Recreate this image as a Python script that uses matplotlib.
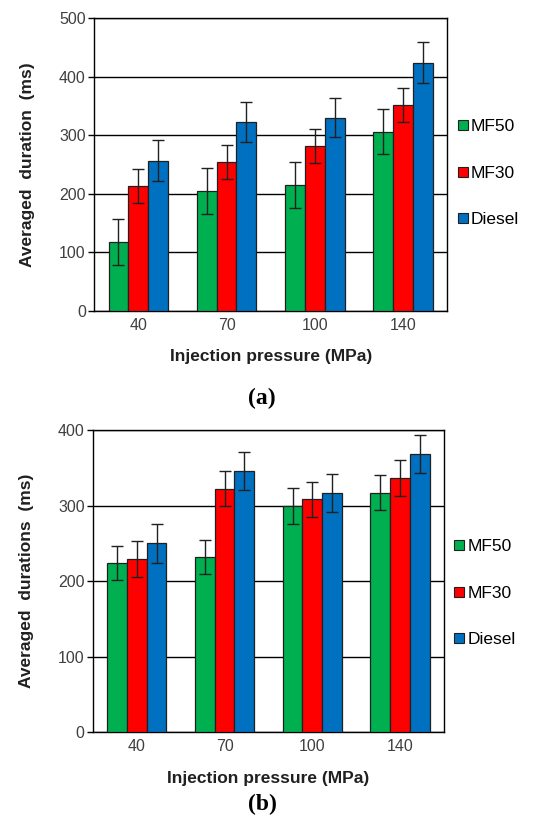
import numpy as np
import matplotlib
matplotlib.use("Agg")
from matplotlib import pyplot
from matplotlib.lines import Line2D

pressures = ["40", "70", "100", "140"]
fuels = ["MF50", "MF30", "Diesel"]

# panel (a): averaged duration
duration_a = {
    "MF50": [117, 204, 215, 306],
    "MF30": [213, 254, 282, 352],
    "Diesel": [256, 322, 330, 424],
}
error_a = {
    "MF50": [39, 39, 39, 39],
    "MF30": [29, 29, 29, 29],
    "Diesel": [35, 34, 33, 35],
}

# panel (b): averaged durations
duration_b = {
    "MF50": [224, 232, 299, 317],
    "MF30": [229, 322, 308, 336],
    "Diesel": [250, 346, 317, 368],
}
error_b = {
    "MF50": [23, 23, 24, 23],
    "MF30": [24, 23, 23, 24],
    "Diesel": [26, 25, 25, 25],
}

COLORS = {"MF50": "#00B050", "MF30": "#FF0000", "Diesel": "#0070C0"}
TICK_GREY = "#404040"
SANS = "Liberation Sans"


def draw_panel(axis, values, errors, y_max, y_label, legend_y):
    x = np.arange(len(pressures))
    width = 0.225
    for i, fuel in enumerate(fuels):
        axis.bar(x + (i - 1) * width, values[fuel], width=width,
                 color=COLORS[fuel], edgecolor="#202020", linewidth=0.9,
                 yerr=errors[fuel], capsize=4.5,
                 error_kw=dict(elinewidth=1.0, capthick=1.0, ecolor="#202020"),
                 zorder=3)
    axis.set_xlim(-0.5, len(pressures) - 0.5)
    axis.set_ylim(0, y_max)
    axis.set_yticks(np.arange(0, y_max + 1, 100))
    axis.set_xticks(x)
    axis.set_xticklabels(pressures)
    axis.tick_params(axis="y", length=4, width=1, color="black",
                     labelsize=11.5, labelcolor=TICK_GREY, pad=2)
    axis.tick_params(axis="x", length=0, labelsize=11.5,
                     labelcolor=TICK_GREY, pad=5)
    for label in axis.get_xticklabels() + axis.get_yticklabels():
        label.set_fontfamily(SANS)
    axis.grid(axis="y", color="black", linewidth=1.0, zorder=0)
    for spine in axis.spines.values():
        spine.set_color("black")
        spine.set_linewidth(1.0)
    axis.set_ylabel(y_label, fontsize=12.5, fontweight="bold",
                    fontfamily=SANS, color="#202020")
    axis.yaxis.set_label_coords(-0.168, 0.5)
    axis.set_xlabel("Injection pressure (MPa)", fontsize=12.5,
                    fontweight="bold", fontfamily=SANS, color="#202020",
                    labelpad=12)
    handles = [Line2D([], [], linestyle="none", marker="s", markersize=7,
                      markerfacecolor=COLORS[f], markeredgecolor="#202020",
                      markeredgewidth=0.8) for f in fuels]
    axis.legend(handles, fuels, loc="center left",
                bbox_to_anchor=(0.985, legend_y),
                frameon=False, handlelength=0.6, handletextpad=0.15,
                labelspacing=1.8, prop={"family": SANS, "size": 12.5})


figure = pyplot.figure(figsize=(5.54, 8.22), dpi=100)
figure.set_facecolor("white")

axis_a = figure.add_axes([0.170, 0.622, 0.637, 0.356])
draw_panel(axis_a, duration_a, error_a, 500, "Averaged  duration  (ms)", 0.47)

axis_b = figure.add_axes([0.168, 0.109, 0.633, 0.368])
draw_panel(axis_b, duration_b, error_b, 400, "Averaged  durations  (ms)", 0.46)

figure.text(0.473, 0.515, "(a)", fontsize=17, fontweight="bold",
            fontfamily="Liberation Serif", ha="center", va="center")
figure.text(0.473, 0.021, "(b)", fontsize=17, fontweight="bold",
            fontfamily="Liberation Serif", ha="center", va="center")

figure.savefig("out.png", dpi=100, facecolor="white")
